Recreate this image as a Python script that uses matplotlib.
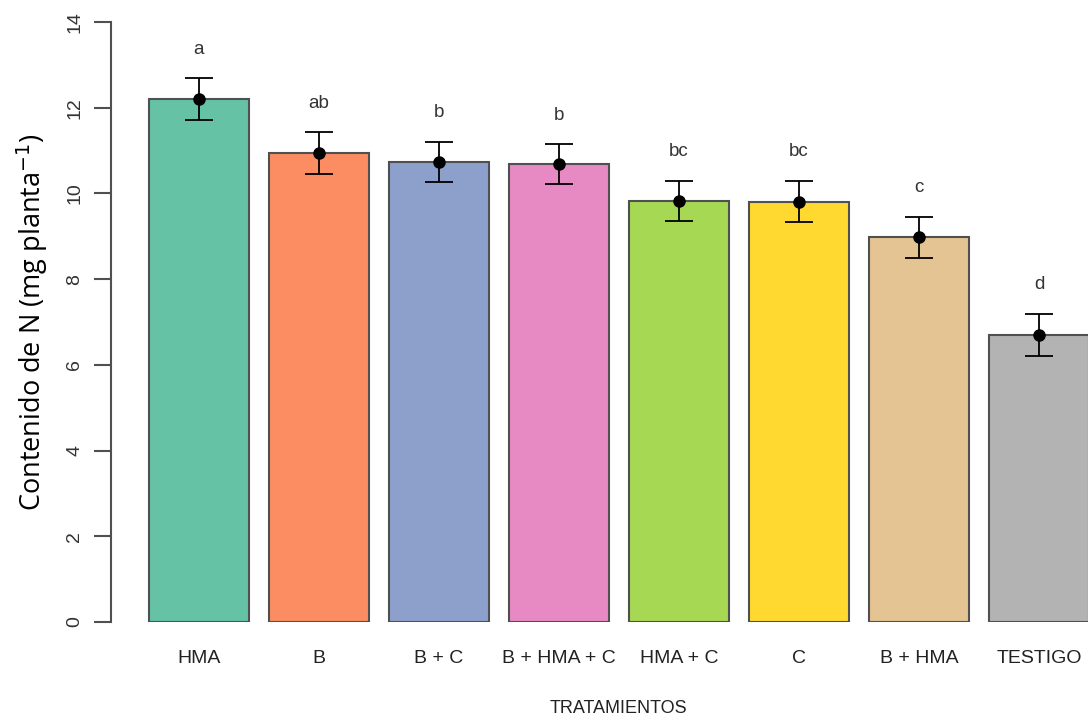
import numpy as np
import matplotlib
matplotlib.use("Agg")
import matplotlib.pyplot as plt

# Contenido de N por tratamiento (media ± error estándar) y letras de Tukey
tratamientos = ["HMA", "B", "B + C", "B + HMA + C", "HMA + C", "C", "B + HMA", "TESTIGO"]
medias = [12.20, 10.94, 10.73, 10.68, 9.82, 9.81, 8.98, 6.70]
errores = [0.49, 0.49, 0.47, 0.47, 0.47, 0.48, 0.48, 0.49]
letras = ["a", "ab", "b", "b", "bc", "bc", "c", "d"]
colores = ["#66C2A5", "#FC8D62", "#8DA0CB", "#E78AC3",
           "#A6D854", "#FFD92F", "#E5C494", "#B3B3B3"]

plt.rcParams["font.family"] = ["Liberation Sans", "DejaVu Sans"]

W, H = 1088, 721
fig = plt.figure(figsize=(W / 100, H / 100), dpi=100)
# plot region runs past the right edge of the figure
left, right, bottom, top = 111, 1125, 622, 22
ax = fig.add_axes([left / W, (H - bottom) / H, (right - left) / W, (bottom - top) / H])

x = np.arange(len(tratamientos))
ax.bar(x, medias, width=100 / 120, color=colores, edgecolor="#505050", linewidth=1.5, zorder=2)
ax.errorbar(x, medias, yerr=errores, fmt="o", color="black", ecolor="black",
            elinewidth=1.3, capsize=10, capthick=1.3, markersize=8, zorder=3)

for xi, m, e, l in zip(x, medias, errores, letras):
    ax.text(xi, m + e + 0.68, l, ha="center", va="center", fontsize=13.5, color="#333333")

ax.set_xlim(-0.733, -0.733 + (right - left) / 120)
ax.set_ylim(0, 14)
ax.set_yticks(np.arange(0, 15, 2))
ax.set_yticklabels([str(v) for v in range(0, 15, 2)], rotation=90, va="center",
                   fontsize=14, color="#333333")
ax.set_xticks(x)
ax.set_xticklabels(tratamientos, fontsize=14, color="#222222")
ax.tick_params(axis="x", length=0, pad=20)
ax.tick_params(axis="y", length=12, width=1.5, color="#505050", pad=8)

for s in ["top", "right", "bottom"]:
    ax.spines[s].set_visible(False)
ax.spines["left"].set_color("#505050")
ax.spines["left"].set_linewidth(1.5)

ax.set_ylabel("Contenido de N (mg planta$^{-1}$)", fontsize=19.5, family="Open Sans",
              color="black", labelpad=12)
ax.set_xlabel("TRATAMIENTOS", fontsize=13, color="#222222", labelpad=24)

fig.savefig("out.png", dpi=100)
